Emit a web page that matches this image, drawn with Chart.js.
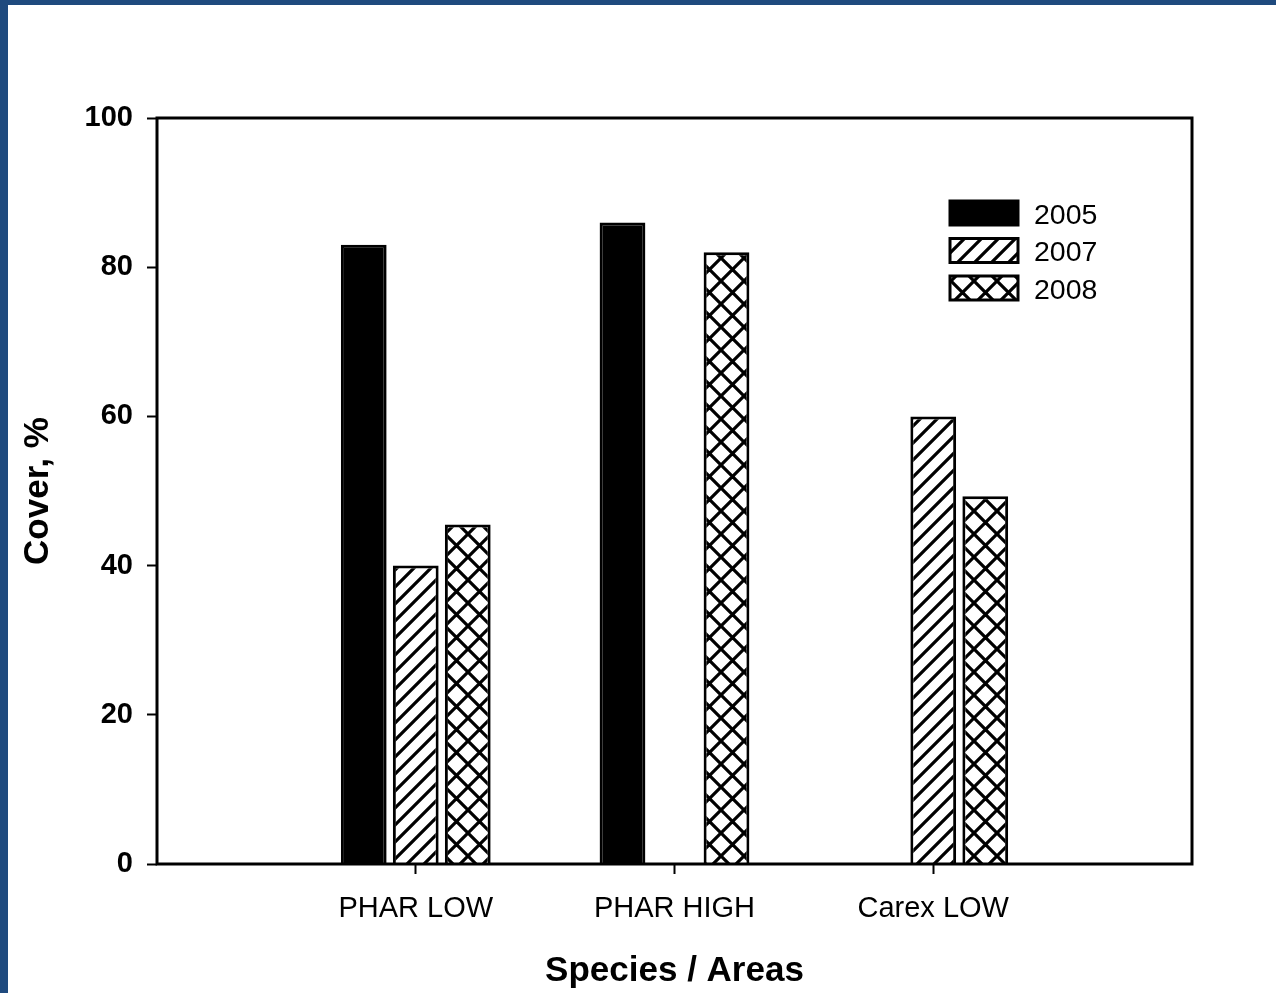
<!DOCTYPE html>
<html>
<head>
<meta charset="utf-8">
<script src="https://cdn.jsdelivr.net/npm/chart.js@4"></script>
<style>
    html, body { margin: 0; padding: 0; background: #ffffff; }
    .frame {
        width: 1268px;
        height: 988px;
        border-left: 8px solid #1f4a7e;
        border-top: 5px solid #1f4a7e;
        background: #ffffff;
    }
    canvas { display: block; }
</style>
</head>
<body>
<div class="frame">
    <canvas id="cover-chart" width="1268" height="988"></canvas>
</div>
<script>
// Categories (empty slots at both ends give the wide side margins)
const categories = ['', 'PHAR LOW', 'PHAR HIGH', 'Carex LOW', ''];
const seriesNames = ['2005', '2007', '2008'];
const cover2005 = [null, 83, 86, null, null];
const cover2007 = [null, 40, null, 60, null];
const cover2008 = [null, 45.5, 82, 49.3, null];
const yTicks = [0, 20, 40, 60, 80, 100];

const FONT = '"Liberation Sans", Arial, sans-serif';

// Build hatch patterns
function makePattern(size, drawFn) {
    const c = document.createElement('canvas');
    c.width = size;
    c.height = size;
    const g = c.getContext('2d');
    g.fillStyle = '#ffffff';
    g.fillRect(0, 0, size, size);
    g.strokeStyle = '#000000';
    g.lineWidth = 3.2;
    drawFn(g, size);
    return g.createPattern(c, 'repeat');
}

const diagonal = makePattern(17, function(g, s) {
    g.beginPath();
    g.moveTo(-3, s + 3); g.lineTo(s + 3, -3);
    g.moveTo(-3, 3); g.lineTo(3, -3);
    g.moveTo(s - 3, s + 3); g.lineTo(s + 3, s - 3);
    g.stroke();
});

const crossHatch = makePattern(23, function(g, s) {
    g.beginPath();
    g.moveTo(-3, s + 3); g.lineTo(s + 3, -3);
    g.moveTo(-3, -3); g.lineTo(s + 3, s + 3);
    g.stroke();
});

const fills = ['#000000', diagonal, crossHatch];

// Frame around the plot area
const framePlugin = {
    id: 'frame',
    afterDatasetsDraw(chart) {
        const a = chart.chartArea;
        const ctx = chart.ctx;
        ctx.save();
        ctx.strokeStyle = '#000000';
        ctx.lineWidth = 3;
        ctx.strokeRect(a.left, a.top, a.right - a.left, a.bottom - a.top);
        ctx.restore();
    }
};

// Legend drawn inside the plot area
const insideLegend = {
    id: 'insideLegend',
    afterDraw(chart) {
        const a = chart.chartArea;
        const ctx = chart.ctx;
        const x0 = a.left + 793;
        const y0 = a.top + 83;
        ctx.save();
        chart.data.datasets.forEach(function(ds, i) {
            const y = y0 + i * 37.5;
            ctx.fillStyle = ds.backgroundColor;
            ctx.fillRect(x0, y, 68, 24);
            ctx.strokeStyle = '#000000';
            ctx.lineWidth = 3;
            ctx.strokeRect(x0, y, 68, 24);
            ctx.fillStyle = '#000000';
            ctx.font = '28.5px ' + FONT;
            ctx.textBaseline = 'middle';
            ctx.fillText(ds.label, x0 + 84, y + 15);
        });
        ctx.restore();
    }
};

const ctx = document.getElementById('cover-chart').getContext('2d');
new Chart(ctx, {
    type: 'bar',
    data: {
        labels: categories,
        datasets: [cover2005, cover2007, cover2008].map(function(values, i) {
            return {
                label: seriesNames[i],
                data: values,
                backgroundColor: fills[i],
                borderColor: '#000000',
                borderWidth: 3,
                categoryPercentage: 0.603,
                barPercentage: 0.88
            };
        })
    },
    options: {
        responsive: false,
        animation: false,
        layout: { padding: { top: 113, right: 84, left: 0, bottom: 0 } },
        plugins: {
            legend: { display: false },
            tooltip: { enabled: false }
        },
        scales: {
            x: {
                offset: false,
                grid: {
                    offset: false,
                    drawOnChartArea: false,
                    tickLength: 10,
                    tickWidth: 2,
                    tickColor: function(c) {
                        return (c.index > 0 && c.index < categories.length - 1) ? '#000000' : 'rgba(0,0,0,0)';
                    }
                },
                border: { display: false },
                ticks: {
                    color: '#000000',
                    padding: 18,
                    maxRotation: 0,
                    autoSkip: false,
                    font: { family: FONT, size: 29 }
                },
                title: {
                    display: true,
                    text: 'Species / Areas',
                    color: '#000000',
                    padding: { top: 0, bottom: 1 },
                    font: { family: FONT, size: 35, weight: 'bold' }
                },
                afterFit: function(scale) { scale.height = 129; }
            },
            y: {
                min: 0,
                max: 100,
                afterBuildTicks: function(scale) {
                    scale.ticks = yTicks.map(function(v) { return { value: v }; });
                },
                grid: {
                    drawOnChartArea: false,
                    tickLength: 10,
                    tickWidth: 2,
                    tickColor: '#000000'
                },
                border: { display: false },
                ticks: {
                    color: '#000000',
                    padding: 14,
                    font: { family: FONT, size: 29, weight: 'bold' }
                },
                title: {
                    display: true,
                    text: 'Cover, %',
                    color: '#000000',
                    padding: { top: 9, bottom: 0 },
                    font: { family: FONT, size: 35, weight: 'bold' }
                },
                afterFit: function(scale) { scale.width = 149; }
            }
        }
    },
    plugins: [framePlugin, insideLegend]
});
</script>
</body>
</html>
